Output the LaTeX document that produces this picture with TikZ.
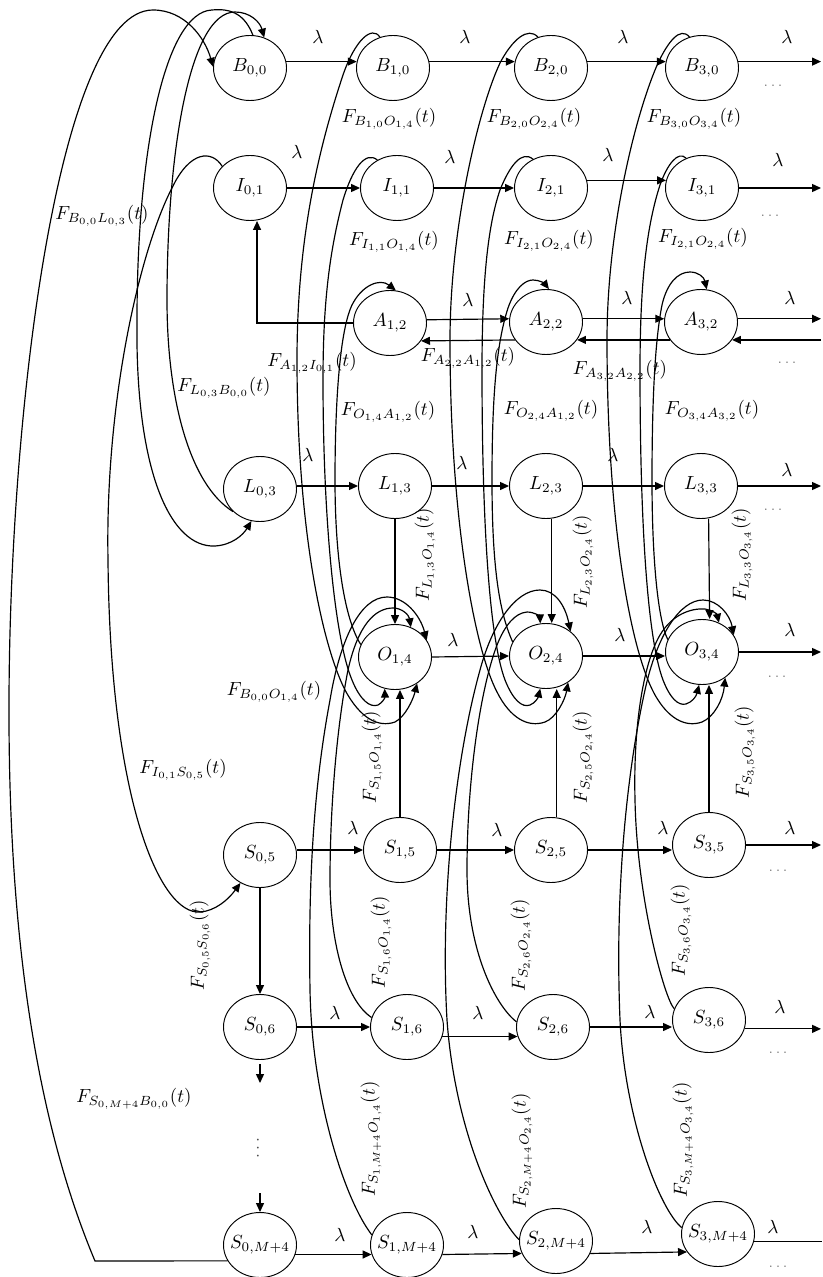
\documentclass[tikz,border=0pt]{standalone}
\usetikzlibrary{shapes.geometric,arrows.meta}
\begin{document}
\begin{tikzpicture}[x=0.526pt,y=-0.526pt,font=\normalsize]
\tikzset{
 st/.style={draw, ellipse, minimum width=38.4pt, minimum height=34.2pt, inner sep=0pt, line width=0.5pt},
 ar/.style={-{Triangle[length=4.7pt,width=4.2pt]}, line width=0.62pt},
 ln/.style={line width=0.62pt},
 dd/.style={font=\scriptsize, text=black!55},
 lab/.style={inner sep=1pt},
}
\fill[white] (0,0) rectangle (822,1277);
\useasboundingbox (0,0) rectangle (822,1277);
\coordinate (R) at (821,0);
\coordinate (RR) at (822,0);
% states
\node[st] (B00) at (250,68) {$B_{0,0}$};
\node[st] (B10) at (393,68) {$B_{1,0}$};
\node[st] (B20) at (551,68) {$B_{2,0}$};
\node[st] (B30) at (702,68) {$B_{3,0}$};
\node[st] (I01) at (250,188) {$I_{0,1}$};
\node[st] (I11) at (397,188) {$I_{1,1}$};
\node[st] (I21) at (551,188) {$I_{2,1}$};
\node[st] (I31) at (702,188) {$I_{3,1}$};
\node[st] (A12) at (390,323) {$A_{1,2}$};
\node[st] (A22) at (546,322) {$A_{2,2}$};
\node[st] (A32) at (701,322) {$A_{3,2}$};
\node[st] (L03) at (260,489) {$L_{0,3}$};
\node[st] (L13) at (395,486) {$L_{1,3}$};
\node[st] (L23) at (546,486) {$L_{2,3}$};
\node[st] (L33) at (701,486) {$L_{3,3}$};
\node[st] (O14) at (395,657) {$O_{1,4}$};
\node[st] (O24) at (546,656) {$O_{2,4}$};
\node[st] (O34) at (702,652) {$O_{3,4}$};
\node[st] (S05) at (260,855) {$S_{0,5}$};
\node[st] (S15) at (400,850) {$S_{1,5}$};
\node[st] (S25) at (551,850) {$S_{2,5}$};
\node[st] (S35) at (709,845) {$S_{3,5}$};
\node[st] (S06) at (260,1027) {$S_{0,6}$};
\node[st] (S16) at (407,1027) {$S_{1,6}$};
\node[st] (S26) at (553,1027) {$S_{2,6}$};
\node[st] (S36) at (709,1020) {$S_{3,6}$};
\node[st] (S0M) at (260,1245) {\makebox[0pt]{$S_{0,M+4}$}};
\node[st] (S1M) at (407,1245) {\makebox[0pt]{$S_{1,M+4}$}};
\node[st] (S2M) at (556,1241) {\makebox[0pt]{$S_{2,M+4}$}};
\node[st] (S3M) at (718,1234) {\makebox[0pt]{$S_{3,M+4}$}};

% horizontal transitions
\draw[ar] (B00.10) -- (B10.170);
\draw[ar] (B10.10) -- (B20.170);
\draw[ar] (B20.10) -- (B30.170);
\draw[ar] (B30.10) -- (B30.10 -| R);
\draw[ar] (I01.east) -- (I11.west);
\draw[ar] (I11.east) -- (I21.west);
\draw[ar] (I21.12) -- (I31.168);
\draw[ar] (I31.east) -- (I31.east -| R);
\draw[ar] (A12.5) -- (A22.175);
\draw[ar] (A22.5) -- (A32.175);
\draw[ar] (A32.5) -- (A32.5 -| R);
\draw[ar] (A22.-150) -- (A12.-30);
\draw[ar] (A32.-150) -- (A22.-30);
\draw[ar] (A32.-30 -| R) -- (A32.-30);
\draw[ar] (L03.east |- L13) -- (L13.west);
\draw[ar] (L13.east) -- (L23.west);
\draw[ar] (L23.east) -- (L33.west);
\draw[ar] (L33.east) -- (L33.east -| R);
\draw[ar] (O14.east) -- (O24.west);
\draw[ar] (O24.east) -- (O24.east -| O34.west);
\draw[ar] (O34.east) -- (O34.east -| R);
\draw[ar] (S05.east |- S15) -- (S15.west);
\draw[ar] (S15.east) -- (S25.west);
\draw[ar] (S25.east) -- (S25.east -| S35.west);
\draw[ar] (S35.east) -- (S35.east -| R);
\draw[ar] (S06.east) -- (S16.west);
\draw[ar] (S16.-15) -- (S26.-165);
\draw[ar] (S26.east) -- (S26.east -| S36.west);
\draw[ar] (S36.-14) -- (S36.-14 -| R);
\draw[ar] (S0M.-15) -- (S1M.-165);
\draw[ar] (S1M.-15) -- (S2M.-160);
\draw[ar] (S2M.-20) -- (S3M.-150);
\draw[ln] (S3M.-12) -- (S3M.-12 -| RR);

% vertical transitions
\draw[ar] (A12.west) -| ([xshift=3.7pt]I01.south);
\draw[ar] (L13.south) -- (O14.north);
\draw[ar] ([xshift=3pt]L23.south) -- ([xshift=3pt]O24.north);
\draw[ar] ([xshift=4pt]L33.south) -- ([xshift=4pt]O34.north);
\draw[ar] (S15.north) -- (S15.north |- O14.south);
\draw[ar] ([xshift=3pt]S25.north) -- ([xshift=3pt]S25.north |- O24.south);
\draw[ar] (S35.north) -- (S35.north |- O34.south);
\draw[ar] (S05.south) -- (S06.north);
\coordinate (v1) at (260,1083);
\coordinate (v2) at (260,1193);
\draw[ar] ([yshift=-2pt]S06.south) -- (v1);
\draw[ar] (v2) -- (S0M.north);
\node[rotate=90, font=\small, text=black!70, inner sep=0pt] (vd) at (258,1148) {.\,.\,.};

% column 0 long curves
\draw[ar] (S0M.206) -- (95,1261) .. controls (40,1130) and (8,950) .. (9,700) .. controls (10,400) and (60,10) .. (153,10) .. controls (185,10) and (205,38) .. (B00.178);
\draw[ar] (B00.85) .. controls (245,15) and (232,8) .. (212,10) .. controls (165,12) and (137,150) .. (137,320) .. controls (135,470) and (170,548) .. (215,546) .. controls (232,545) and (243,535) .. (L03.255);
\draw[ar] (L03.220) .. controls (190,485) and (167,400) .. (167,300) .. controls (167,150) and (190,12) .. (235,12) .. controls (250,12) and (260,22) .. (B00.65);
\draw[ar] (I01.142) .. controls (212,150) and (190,150) .. (172,188) .. controls (140,250) and (105,400) .. (108,560) .. controls (110,800) and (160,915) .. (200,912) .. controls (215,911) and (228,900) .. (S05.235);

% column 1 curves
\draw[ar] (B10.113) .. controls (372,25) and (355,40) .. (343,75) .. controls (318,150) and (297,240) .. (297,360) .. controls (297,520) and (320,640) .. (345,690) .. controls (360,718) and (378,728) .. (395,722) .. controls (405,717) and (413,700) .. (O14.-50);
\draw[ar] (I11.125) .. controls (365,150) and (352,170) .. (343,200) .. controls (330,250) and (323,300) .. (323,380) .. controls (323,520) and (335,640) .. (352,680) .. controls (360,700) and (370,708) .. (378,705) .. controls (382,703) and (385,698) .. (O14.-108);
\draw[ar] (O14.160) .. controls (345,620) and (335,560) .. (335,480) .. controls (335,400) and (340,330) .. (352,305) .. controls (362,285) and (380,278) .. (A12.80);
\draw[ar] (S16.165) .. controls (345,1000) and (330,940) .. (330,880) .. controls (330,800) and (338,720) .. (348,670) .. controls (358,625) and (375,608) .. (393,608) .. controls (402,608) and (409,615) .. (O14.62);
\draw[ar] (S1M.164) .. controls (345,1200) and (312,1100) .. (310,990) .. controls (308,870) and (315,780) .. (330,700) .. controls (340,640) and (360,597) .. (387,597) .. controls (405,597) and (420,615) .. (O14.28);

% column 2 curves
\draw[ar] (B20.113) .. controls (528,26) and (512,40) .. (500,63) .. controls (478,110) and (450,230) .. (450,340) .. controls (450,520) and (475,650) .. (497,692) .. controls (510,718) and (528,728) .. (545,722) .. controls (556,718) and (565,700) .. (O24.-50);
\draw[ar] (I21.122) .. controls (522,150) and (510,165) .. (500,190) .. controls (488,225) and (482,280) .. (482,370) .. controls (482,530) and (490,640) .. (505,680) .. controls (513,700) and (522,708) .. (530,705) .. controls (535,703) and (538,698) .. (O24.-100);
\draw[ar] (O24.157) .. controls (498,610) and (492,560) .. (492,480) .. controls (492,400) and (496,345) .. (508,308) .. controls (515,288) and (525,280) .. (533,280) .. controls (540,280) and (545,284) .. (A22.85);
\draw[ar] (S26.172) .. controls (495,1005) and (467,950) .. (467,870) .. controls (467,780) and (480,690) .. (497,645) .. controls (505,625) and (515,613) .. (527,612) .. controls (535,612) and (540,617) .. (O24.100);
\draw[ar] (S2M.178) .. controls (495,1215) and (455,1130) .. (447,1020) .. controls (440,900) and (455,760) .. (480,670) .. controls (492,625) and (515,590) .. (540,590) .. controls (555,590) and (565,605) .. (O24.45);

% column 3 curves
\draw[ar] (B30.112) .. controls (680,26) and (668,42) .. (658,63) .. controls (635,115) and (607,230) .. (607,340) .. controls (607,520) and (630,650) .. (655,695) .. controls (668,718) and (685,728) .. (702,722) .. controls (714,717) and (723,700) .. (O34.-48);
\draw[ar] (I31.118) .. controls (678,150) and (667,165) .. (660,185) .. controls (647,225) and (640,280) .. (640,370) .. controls (640,530) and (648,640) .. (663,680) .. controls (670,698) and (678,706) .. (686,704) .. controls (692,702) and (696,697) .. (O34.-95);
\draw[ar] (O34.160) .. controls (658,620) and (652,560) .. (652,480) .. controls (652,400) and (655,340) .. (662,305) .. controls (667,283) and (678,272) .. (690,272) .. controls (698,272) and (704,277) .. (A32.80);
\draw[ar] (S36.162) .. controls (665,1000) and (637,900) .. (635,800) .. controls (633,720) and (645,660) .. (660,635) .. controls (672,615) and (690,608) .. (705,609) .. controls (712,610) and (717,614) .. (O34.60);
\draw[ar] (S3M.170) .. controls (660,1210) and (625,1120) .. (620,1020) .. controls (615,900) and (625,780) .. (645,690) .. controls (657,635) and (680,600) .. (703,600) .. controls (718,600) and (730,615) .. (O34.28);

% lambda labels
\foreach \p [count=\i] in {(318,37),(465,37),(623,37),(787,37),(297,152),(450,157),(608,155),(778,160),(468,300),(627,298),(790,298),(308,455),(462,463),(613,455),(787,470),(453,640),(620,635),(790,630),(353,828),(497,830),(663,828),(790,828),(335,1013),(478,1013),(650,1012),(780,1007),(340,1235),(473,1232),(647,1227),(773,1227)}
  \node[lab] (lam\i) at \p {$\lambda$};

% continuation dots
\foreach \p [count=\i] in {(773,86),(770,216),(787,363),(773,510),(777,677),(778,871),(778,1053),(778,1267)}
  \node[dd] (dots\i) at \p {$\ldots$};

% rate labels
\node[lab] (f1) at (102,216) {$F_{B_{0,0}L_{0,3}}(t)$};
\node[lab] (f2) at (389,119) {$F_{B_{1,0}O_{1,4}}(t)$};
\node[lab] (f3) at (534,119) {$F_{B_{2,0}O_{2,4}}(t)$};
\node[lab] (f4) at (694,119) {$F_{B_{3,0}O_{3,4}}(t)$};
\node[lab] (f5) at (394,242) {$F_{I_{1,1}O_{1,4}}(t)$};
\node[lab] (f6) at (549,241) {$F_{I_{2,1}O_{2,4}}(t)$};
\node[lab] (f7) at (703,239) {$F_{I_{2,1}O_{2,4}}(t)$};
\node[lab] (f8) at (312,363) {$F_{A_{1,2}I_{0,1}}(t)$};
\node[lab] (f9) at (468,358) {$F_{A_{2,2}A_{1,2}}(t)$};
\node[lab] (f10) at (620,371) {$F_{A_{3,2}A_{2,2}}(t)$};
\node[lab] (f11) at (224,388) {$F_{L_{0,3}B_{0,0}}(t)$};
\node[lab] (f12) at (388,412) {$F_{O_{1,4}A_{1,2}}(t)$};
\node[lab] (f13) at (551,411) {$F_{O_{2,4}A_{1,2}}(t)$};
\node[lab] (f14) at (712,411) {$F_{O_{3,4}A_{3,2}}(t)$};
\node[lab,rotate=90] (f15) at (425,555) {$F_{L_{1,3}O_{1,4}}(t)$};
\node[lab,rotate=90] (f16) at (583,562) {$F_{L_{2,3}O_{2,4}}(t)$};
\node[lab,rotate=90] (f17) at (742,555) {$F_{L_{3,3}O_{3,4}}(t)$};
\node[lab] (f18) at (274,692) {$F_{B_{0,0}O_{1,4}}(t)$};
\node[lab] (f19) at (183,770) {$F_{I_{0,1}S_{0,5}}(t)$};
\node[lab,rotate=90] (f20) at (372,757) {$F_{S_{1,5}O_{1,4}}(t)$};
\node[lab,rotate=90] (f21) at (583,757) {$F_{S_{2,5}O_{2,4}}(t)$};
\node[lab,rotate=90] (f22) at (745,752) {$F_{S_{3,5}O_{3,4}}(t)$};
\node[lab,rotate=90] (f23) at (200,945) {$F_{S_{0,5}S_{0,6}}(t)$};
\node[lab,rotate=90] (f24) at (381,942) {$F_{S_{1,6}O_{1,4}}(t)$};
\node[lab,rotate=90] (f25) at (521,945) {$F_{S_{2,6}O_{2,4}}(t)$};
\node[lab,rotate=90] (f26) at (681,930) {$F_{S_{3,6}O_{3,4}}(t)$};
\node[lab] (f27) at (134,1099) {$F_{S_{0,M+4}B_{0,0}}(t)$};
\node[lab,rotate=90] (f28) at (371,1139) {$F_{S_{1,M+4}O_{1,4}}(t)$};
\node[lab,rotate=90] (f29) at (522,1151) {$F_{S_{2,M+4}O_{2,4}}(t)$};
\node[lab,rotate=90] (f30) at (683,1140) {$F_{S_{3,M+4}O_{3,4}}(t)$};
\end{tikzpicture}
\end{document}
